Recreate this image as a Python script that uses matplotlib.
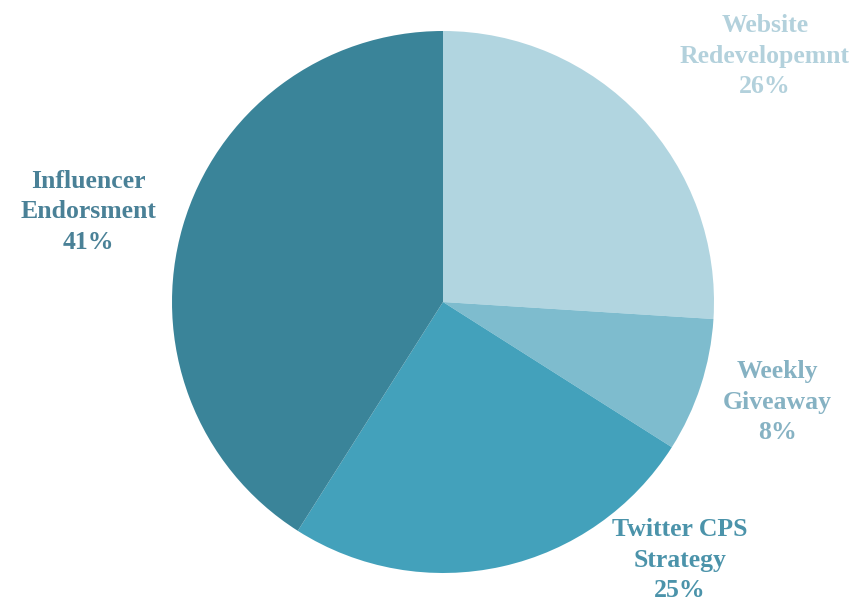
import matplotlib
matplotlib.use("Agg")
import matplotlib.pyplot as plt

# Budget split across marketing initiatives
categories = ["Website\nRedevelopemnt", "Weekly\nGiveaway", "Twitter CPS\nStrategy", "Influencer\nEndorsment"]
shares = [26, 8, 25, 41]
slice_colors = ["#b1d5e0", "#7ebcce", "#43a1bb", "#3a8499"]
label_colors = ["#b3d1dc", "#86b2c3", "#4b93aa", "#4a8197"]
label_pos = [(765, 549), (777, 203), (680, 45), (88, 393)]

fig = plt.figure(figsize=(8.55, 6.05), dpi=100)
ax = fig.add_axes([0, 0, 1, 1])

ax.pie(shares, colors=slice_colors, startangle=90, counterclock=False,
       center=(443, 303), radius=271, frame=True,
       wedgeprops=dict(linewidth=0))
ax.set_xlim(0, 855)
ax.set_ylim(0, 605)
ax.set_aspect("equal")
ax.axis("off")

for cat, val, col, (x, y) in zip(categories, shares, label_colors, label_pos):
    ax.text(x, y, f"{cat}\n{val}%", ha="center", va="center", color=col,
            fontsize=18.5, fontweight="bold", family="Liberation Serif",
            linespacing=1.4)

fig.savefig("out.png", dpi=100)
